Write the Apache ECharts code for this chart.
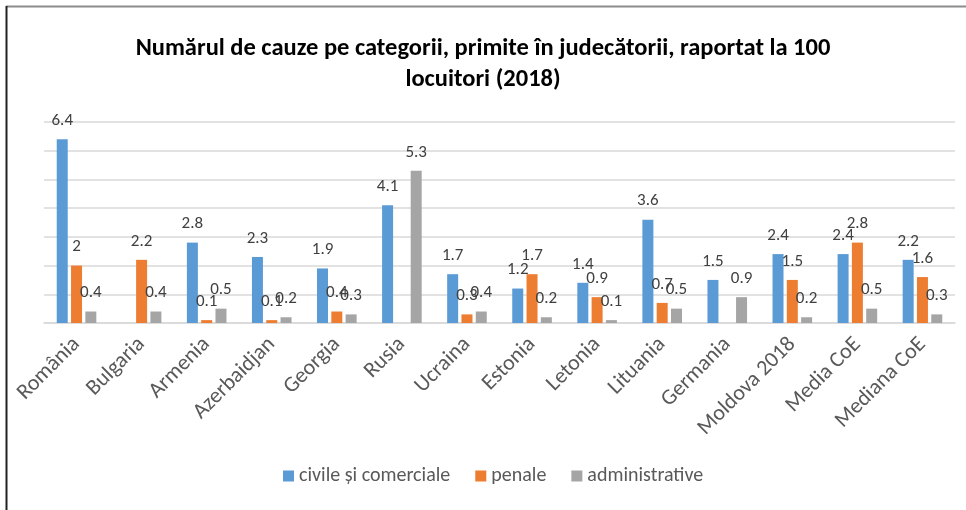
<!DOCTYPE html>
<html>
<head>
<meta charset="utf-8">
<title>Numărul de cauze pe categorii</title>
<script src="https://cdn.jsdelivr.net/npm/echarts@6/dist/echarts.min.js"></script>
<style>
  html, body { margin: 0; padding: 0; background: #fff; }
  #chart { width: 966px; height: 510px; }
</style>
</head>
<body>
<div id="chart"></div>
<script>
// categorii (tari)
const categories = ['România', 'Bulgaria', 'Armenia', 'Azerbaidjan', 'Georgia', 'Rusia', 'Ucraina',
  'Estonia', 'Letonia', 'Lituania', 'Germania', 'Moldova 2018', 'Media CoE', 'Mediana CoE']

// valori la 100 locuitori, null = lipsa date
const civile = [6.4, null, 2.8, 2.3, 1.9, 4.1, 1.7, 1.2, 1.4, 3.6, 1.5, 2.4, 2.4, 2.2]
const penale = [2, 2.2, 0.1, 0.1, 0.4, null, 0.3, 1.7, 0.9, 0.7, null, 1.5, 2.8, 1.6]
const administrative = [0.4, 0.4, 0.5, 0.2, 0.3, 5.3, 0.4, 0.2, 0.1, 0.5, 0.9, 0.2, 0.5, 0.3]

const seriesNames = ['civile și comerciale', 'penale', 'administrative']
const colors = ['#5B9BD5', '#ED7D31', '#A5A5A5']

const font = 'Carlito, Lato, sans-serif'

const chart = echarts.init(document.getElementById('chart'))

function barSeries(name, data, color) {
  return {
    name: name,
    type: 'bar',
    data: data.map(v => (v === null ? '-' : v)),
    barWidth: 11,
    barGap: '30%',
    itemStyle: { color: color },
    label: {
      show: true,
      position: 'top',
      distance: 10,
      color: '#404040',
      fontSize: 17,
      fontFamily: font
    }
  }
}

chart.setOption({
  backgroundColor: '#fff',
  animation: false,
  color: colors,
  title: {
    text: 'Numărul de cauze pe categorii, primite în judecătorii, raportat la 100\nlocuitori (2018)',
    left: 'center',
    top: 28,
    textStyle: {
      fontFamily: font,
      fontSize: 24.5,
      fontWeight: 'bold',
      color: '#000',
      lineHeight: 31
    }
  },
  legend: {
    data: seriesNames,
    top: 461,
    left: 278,
    itemWidth: 11,
    itemHeight: 11,
    itemGap: 25,
    icon: 'rect',
    textStyle: { fontFamily: font, fontSize: 20, color: '#595959' }
  },
  grid: { left: 44, right: 11, top: 122, bottom: 187 },
  xAxis: {
    type: 'category',
    data: categories,
    axisLine: { lineStyle: { color: '#d9d9d9', width: 1.5 } },
    axisTick: { show: false },
    axisLabel: {
      rotate: 45,
      margin: 18,
      interval: 0,
      color: '#595959',
      fontSize: 22,
      fontFamily: font
    }
  },
  yAxis: {
    type: 'value',
    min: 0,
    max: 7,
    interval: 1,
    axisLabel: { show: false },
    axisLine: { show: false },
    axisTick: { show: false },
    splitLine: { lineStyle: { color: '#d9d9d9', width: 1.5 } }
  },
  series: [
    barSeries(seriesNames[0], civile, colors[0]),
    barSeries(seriesNames[1], penale, colors[1]),
    barSeries(seriesNames[2], administrative, colors[2])
  ],
  // chenarul imaginii (sus gri, stanga negru)
  graphic: [
    { type: 'line', shape: { x1: 6, y1: 6.5, x2: 966, y2: 6.5 }, style: { stroke: '#8c8c8c', lineWidth: 2 } },
    { type: 'line', shape: { x1: 6.5, y1: 6, x2: 6.5, y2: 510 }, style: { stroke: '#222', lineWidth: 2 } }
  ]
})

window.addEventListener('resize', () => chart.resize())
</script>
</body>
</html>
